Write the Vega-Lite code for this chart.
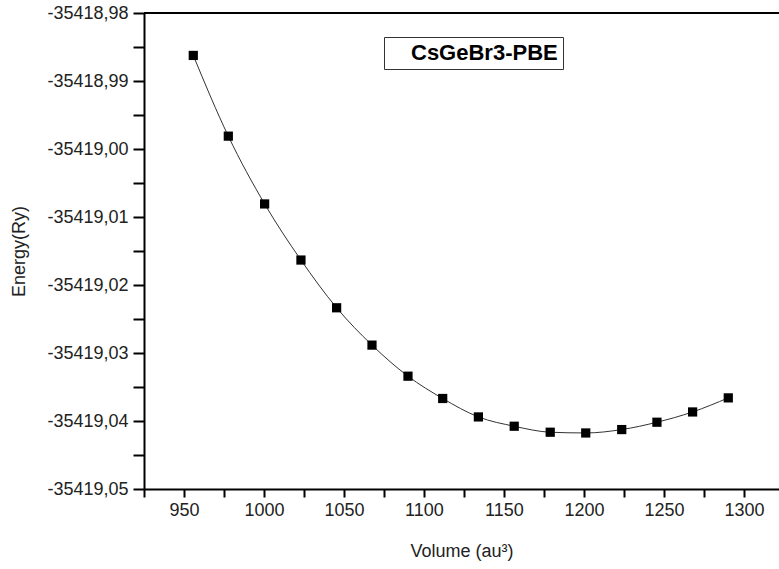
{
  "$schema": "https://vega.github.io/schema/vega-lite/v6.json",
  "autosize": "none",
  "width": 635,
  "height": 476,
  "padding": {"left": 144, "top": 13, "right": 0, "bottom": 80},
  "background": "white",
  "config": {
    "view": {"stroke": null},
    "font": "Liberation Sans",
    "axis": {"labelFont": "Liberation Sans", "titleFont": "Liberation Sans", "labelColor": "#222", "titleColor": "#222", "titleFontWeight": "normal", "domainColor": "black", "tickColor": "black", "domainWidth": 2, "tickWidth": 2, "grid": false}
  },
  "data": {
    "values": [
      {"volume": 955.8, "energy": -35418.98624, "series": "CsGeBr3-PBE"},
      {"volume": 977.7, "energy": -35418.99811, "series": "CsGeBr3-PBE"},
      {"volume": 1000.4, "energy": -35419.00808, "series": "CsGeBr3-PBE"},
      {"volume": 1023.1, "energy": -35419.01633, "series": "CsGeBr3-PBE"},
      {"volume": 1045.4, "energy": -35419.02335, "series": "CsGeBr3-PBE"},
      {"volume": 1067.5, "energy": -35419.02884, "series": "CsGeBr3-PBE"},
      {"volume": 1090.0, "energy": -35419.03341, "series": "CsGeBr3-PBE"},
      {"volume": 1111.7, "energy": -35419.03669, "series": "CsGeBr3-PBE"},
      {"volume": 1134.0, "energy": -35419.03940, "series": "CsGeBr3-PBE"},
      {"volume": 1156.4, "energy": -35419.04077, "series": "CsGeBr3-PBE"},
      {"volume": 1178.9, "energy": -35419.04165, "series": "CsGeBr3-PBE"},
      {"volume": 1201.1, "energy": -35419.04176, "series": "CsGeBr3-PBE"},
      {"volume": 1223.6, "energy": -35419.04126, "series": "CsGeBr3-PBE"},
      {"volume": 1245.6, "energy": -35419.04018, "series": "CsGeBr3-PBE"},
      {"volume": 1267.9, "energy": -35419.03867, "series": "CsGeBr3-PBE"},
      {"volume": 1290.2, "energy": -35419.03660, "series": "CsGeBr3-PBE"}
    ]
  },
  "encoding": {
    "y": {
      "field": "energy", "type": "quantitative",
      "scale": {"domain": [-35419.05, -35418.98], "nice": false, "zero": false},
      "axis": {
        "title": "Energy(Ry)",
        "values": [-35419.05, -35419.045, -35419.04, -35419.035, -35419.03, -35419.025, -35419.02, -35419.015, -35419.01, -35419.005, -35419.0, -35418.995, -35418.99, -35418.985, -35418.98],
        "labelExpr": "round(datum.value*1000) % 10 === 0 ? replace(replace(format(datum.value, '.2f'), '.', ','), '\u2212', '-') : ''",
        "labelFontSize": 18, "titleFontSize": 18,
        "tickSize": 11, "labelPadding": 5, "titlePadding": 18,
        "labelFlush": false, "labelOverlap": false,
        "encode": {"ticks": {"update": {"x2": {"signal": "round(datum.value*1000) % 10 === 0 ? -11 : -6"}}}}
      }
    }
  },
  "layer": [
    {
      "mark": {"type": "line", "interpolate": "monotone", "color": "#333", "strokeWidth": 1},
      "encoding": {
        "x": {
          "field": "volume", "type": "quantitative",
          "scale": {"domain": [925, 1321.9], "nice": false, "zero": false},
          "axis": {
            "title": "Volume (au³)",
            "values": [925, 950, 975, 1000, 1025, 1050, 1075, 1100, 1125, 1150, 1175, 1200, 1225, 1250, 1275, 1300],
            "labelExpr": "datum.value % 50 === 0 ? format(datum.value, 'd') : ''",
            "labelFontSize": 18, "titleFontSize": 18,
            "tickSize": 8, "labelPadding": 4, "titlePadding": 23,
            "labelFlush": false, "labelOverlap": false,
            "encode": {"ticks": {"update": {"y2": {"signal": "datum.value % 50 === 0 ? 9 : 6"}}}}
          }
        }
      }
    },
    {
      "mark": {"type": "point", "shape": "square", "filled": true, "opacity": 1, "size": 85},
      "encoding": {
        "x": {
          "field": "volume", "type": "quantitative",
          "scale": {"domain": [925, 1321.9], "nice": false, "zero": false},
          "axis": {
            "title": "Volume (au³)",
            "values": [925, 950, 975, 1000, 1025, 1050, 1075, 1100, 1125, 1150, 1175, 1200, 1225, 1250, 1275, 1300],
            "labelExpr": "datum.value % 50 === 0 ? format(datum.value, 'd') : ''",
            "labelFontSize": 18, "titleFontSize": 18,
            "tickSize": 8, "labelPadding": 4, "titlePadding": 23,
            "labelFlush": false, "labelOverlap": false,
            "encode": {"ticks": {"update": {"y2": {"signal": "datum.value % 50 === 0 ? 9 : 6"}}}}
          }
        },
        "color": {
          "field": "series", "type": "nominal",
          "scale": {"range": ["black"]},
          "legend": {
            "title": null, "orient": "none", "legendX": 240, "legendY": 24,
            "symbolSize": 0, "symbolOpacity": 0, "symbolStrokeWidth": 0, "labelOffset": 0,
            "labelExpr": "'\u00a0\u00a0' + datum.label + '\u00a0\u00a0'",
            "labelFont": "Liberation Sans", "labelFontSize": 22, "labelFontWeight": "bold", "labelColor": "black",
            "strokeColor": "#333", "fillColor": "white", "padding": 5
          }
        }
      }
    },
    {
      "mark": {"type": "rule", "color": "black", "strokeWidth": 2},
      "encoding": {
        "y": {"datum": -35418.98}
      }
    }
  ]
}
